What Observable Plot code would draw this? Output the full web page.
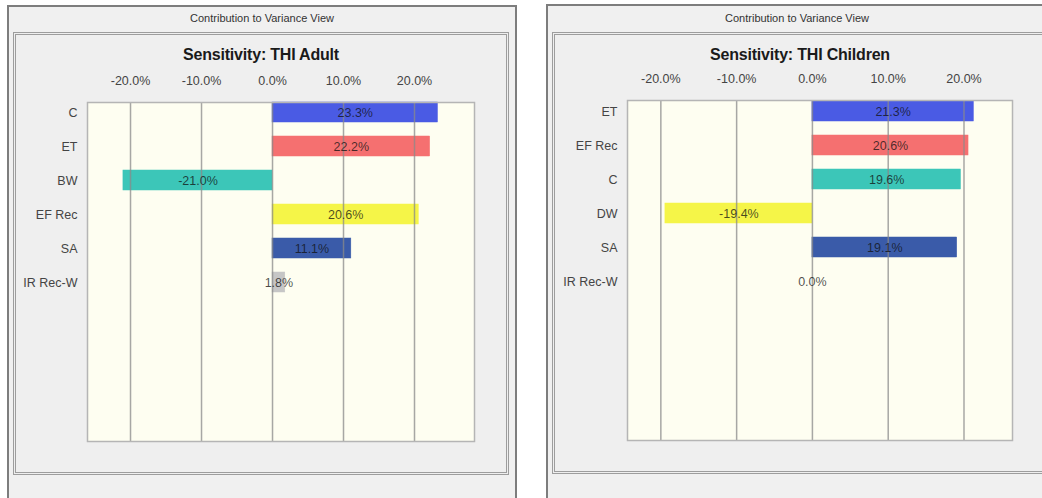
<!DOCTYPE html>
<html>
<head>
<meta charset="utf-8">
<script src="https://cdn.jsdelivr.net/npm/d3@7"></script>
<script src="https://cdn.jsdelivr.net/npm/@observablehq/plot@0.6"></script>
<style>
  html, body { margin: 0; padding: 0; background: #ffffff; width: 1042px; height: 498px; overflow: hidden; position: relative; font-family: "Liberation Sans", Arial, sans-serif; }
  .win { position: absolute; background: #f0f0f0; border: 2px solid #7d7d7d; box-sizing: border-box; }
  .wtitle { position: absolute; top: 12px; font-size: 11px; color: #333; text-align: center; }
  .inner { position: absolute; border: 3px double #9d9d9d; box-sizing: border-box; background: #efefef; }
  .sub { position: absolute; font-size: 16px; font-weight: bold; color: #1a1a1a; text-align: center; letter-spacing: -0.2px; }
  .chart { position: absolute; }
</style>
</head>
<body>
<div class="win" style="left:7px; top:5px; width:510px; height:520px;"></div>
<div class="win" style="left:546px; top:4px; width:520px; height:520px;"></div>

<div class="wtitle" style="left:7px; width:510px;">Contribution to Variance View</div>
<div class="wtitle" style="left:546px; width:502px;">Contribution to Variance View</div>

<div class="inner" style="left:13px; top:32px; width:496px; height:443px;"></div>
<div class="inner" style="left:552px; top:32px; width:510px; height:442px;"></div>

<div class="sub" style="left:13px; width:496px; top:46px;">Sensitivity: THI Adult</div>
<div class="sub" style="left:552px; width:496px; top:46px;">Sensitivity: THI Children</div>

<div id="left" class="chart" style="left:13px; top:60px;"></div>
<div id="right" class="chart" style="left:553px; top:60px;"></div>

<script>
// ---- data ----
const adultCategories = ["C", "ET", "BW", "EF Rec", "SA", "IR Rec-W"];
const adultValues = [23.3, 22.2, -21.0, 20.6, 11.1, 1.8];
const childCategories = ["ET", "EF Rec", "C", "DW", "SA", "IR Rec-W"];
const childValues = [21.3, 20.6, 19.6, -19.4, 19.1, 0.0];
const barColors = ["#4a5be4", "#f57070", "#3cc6b8", "#f5f548", "#3a5ba9", "#c6c6c6"];
const xTicks = [-20, -10, 0, 10, 20];

function fmt(v) { return v.toFixed(1) + "%"; }

function makeChart(cats, vals, o) {
  const data = cats.map((c, i) => ({c, v: vals[i], color: barColors[i]}));
  return Plot.plot({
    width: o.width,
    height: 400,
    marginLeft: 74,
    marginRight: o.marginRight,
    marginTop: o.marginTop,
    marginBottom: 460 - o.frameBottom,
    style: {fontSize: "12.5px", fontFamily: "'Liberation Sans', Arial, sans-serif", color: "#444", background: "transparent", overflow: "visible"},
    x: {domain: o.xDomain, axis: "top", ticks: xTicks, tickFormat: fmt, tickSize: 0, tickPadding: 18, label: null},
    y: {domain: cats, range: o.yRange, padding: 0.422, tickSize: 0, tickPadding: 10, label: null},
    color: {type: "identity"},
    marks: [
      Plot.frame({fill: "#fefef1", stroke: "none"}),
      Plot.barX(data, {x1: 0, x2: "v", y: "c", fill: "color", stroke: "color", strokeWidth: 0.5}),
      Plot.ruleX(xTicks, {stroke: "#8a8a8a", strokeOpacity: 0.75, strokeWidth: 1.5}),
      Plot.frame({stroke: "#b5b5b5", strokeWidth: 1.5}),
      Plot.text(data, {x: d => d.v / 2, y: "c", text: d => fmt(d.v), fill: "#111", fillOpacity: 0.75, fontSize: 12.5})
    ]
  });
}

document.getElementById("left").appendChild(makeChart(adultCategories, adultValues, {
  width: 495, marginRight: 34, marginTop: 42, frameBottom: 441,
  xDomain: [-26.06, 28.45], yRange: [25.4, 247.6]
}));
document.getElementById("right").appendChild(makeChart(childCategories, childValues, {
  width: 489, marginRight: 30, marginTop: 40, frameBottom: 440,
  xDomain: [-24.4, 26.4], yRange: [24.4, 246.6]
}));
</script>
</body>
</html>
